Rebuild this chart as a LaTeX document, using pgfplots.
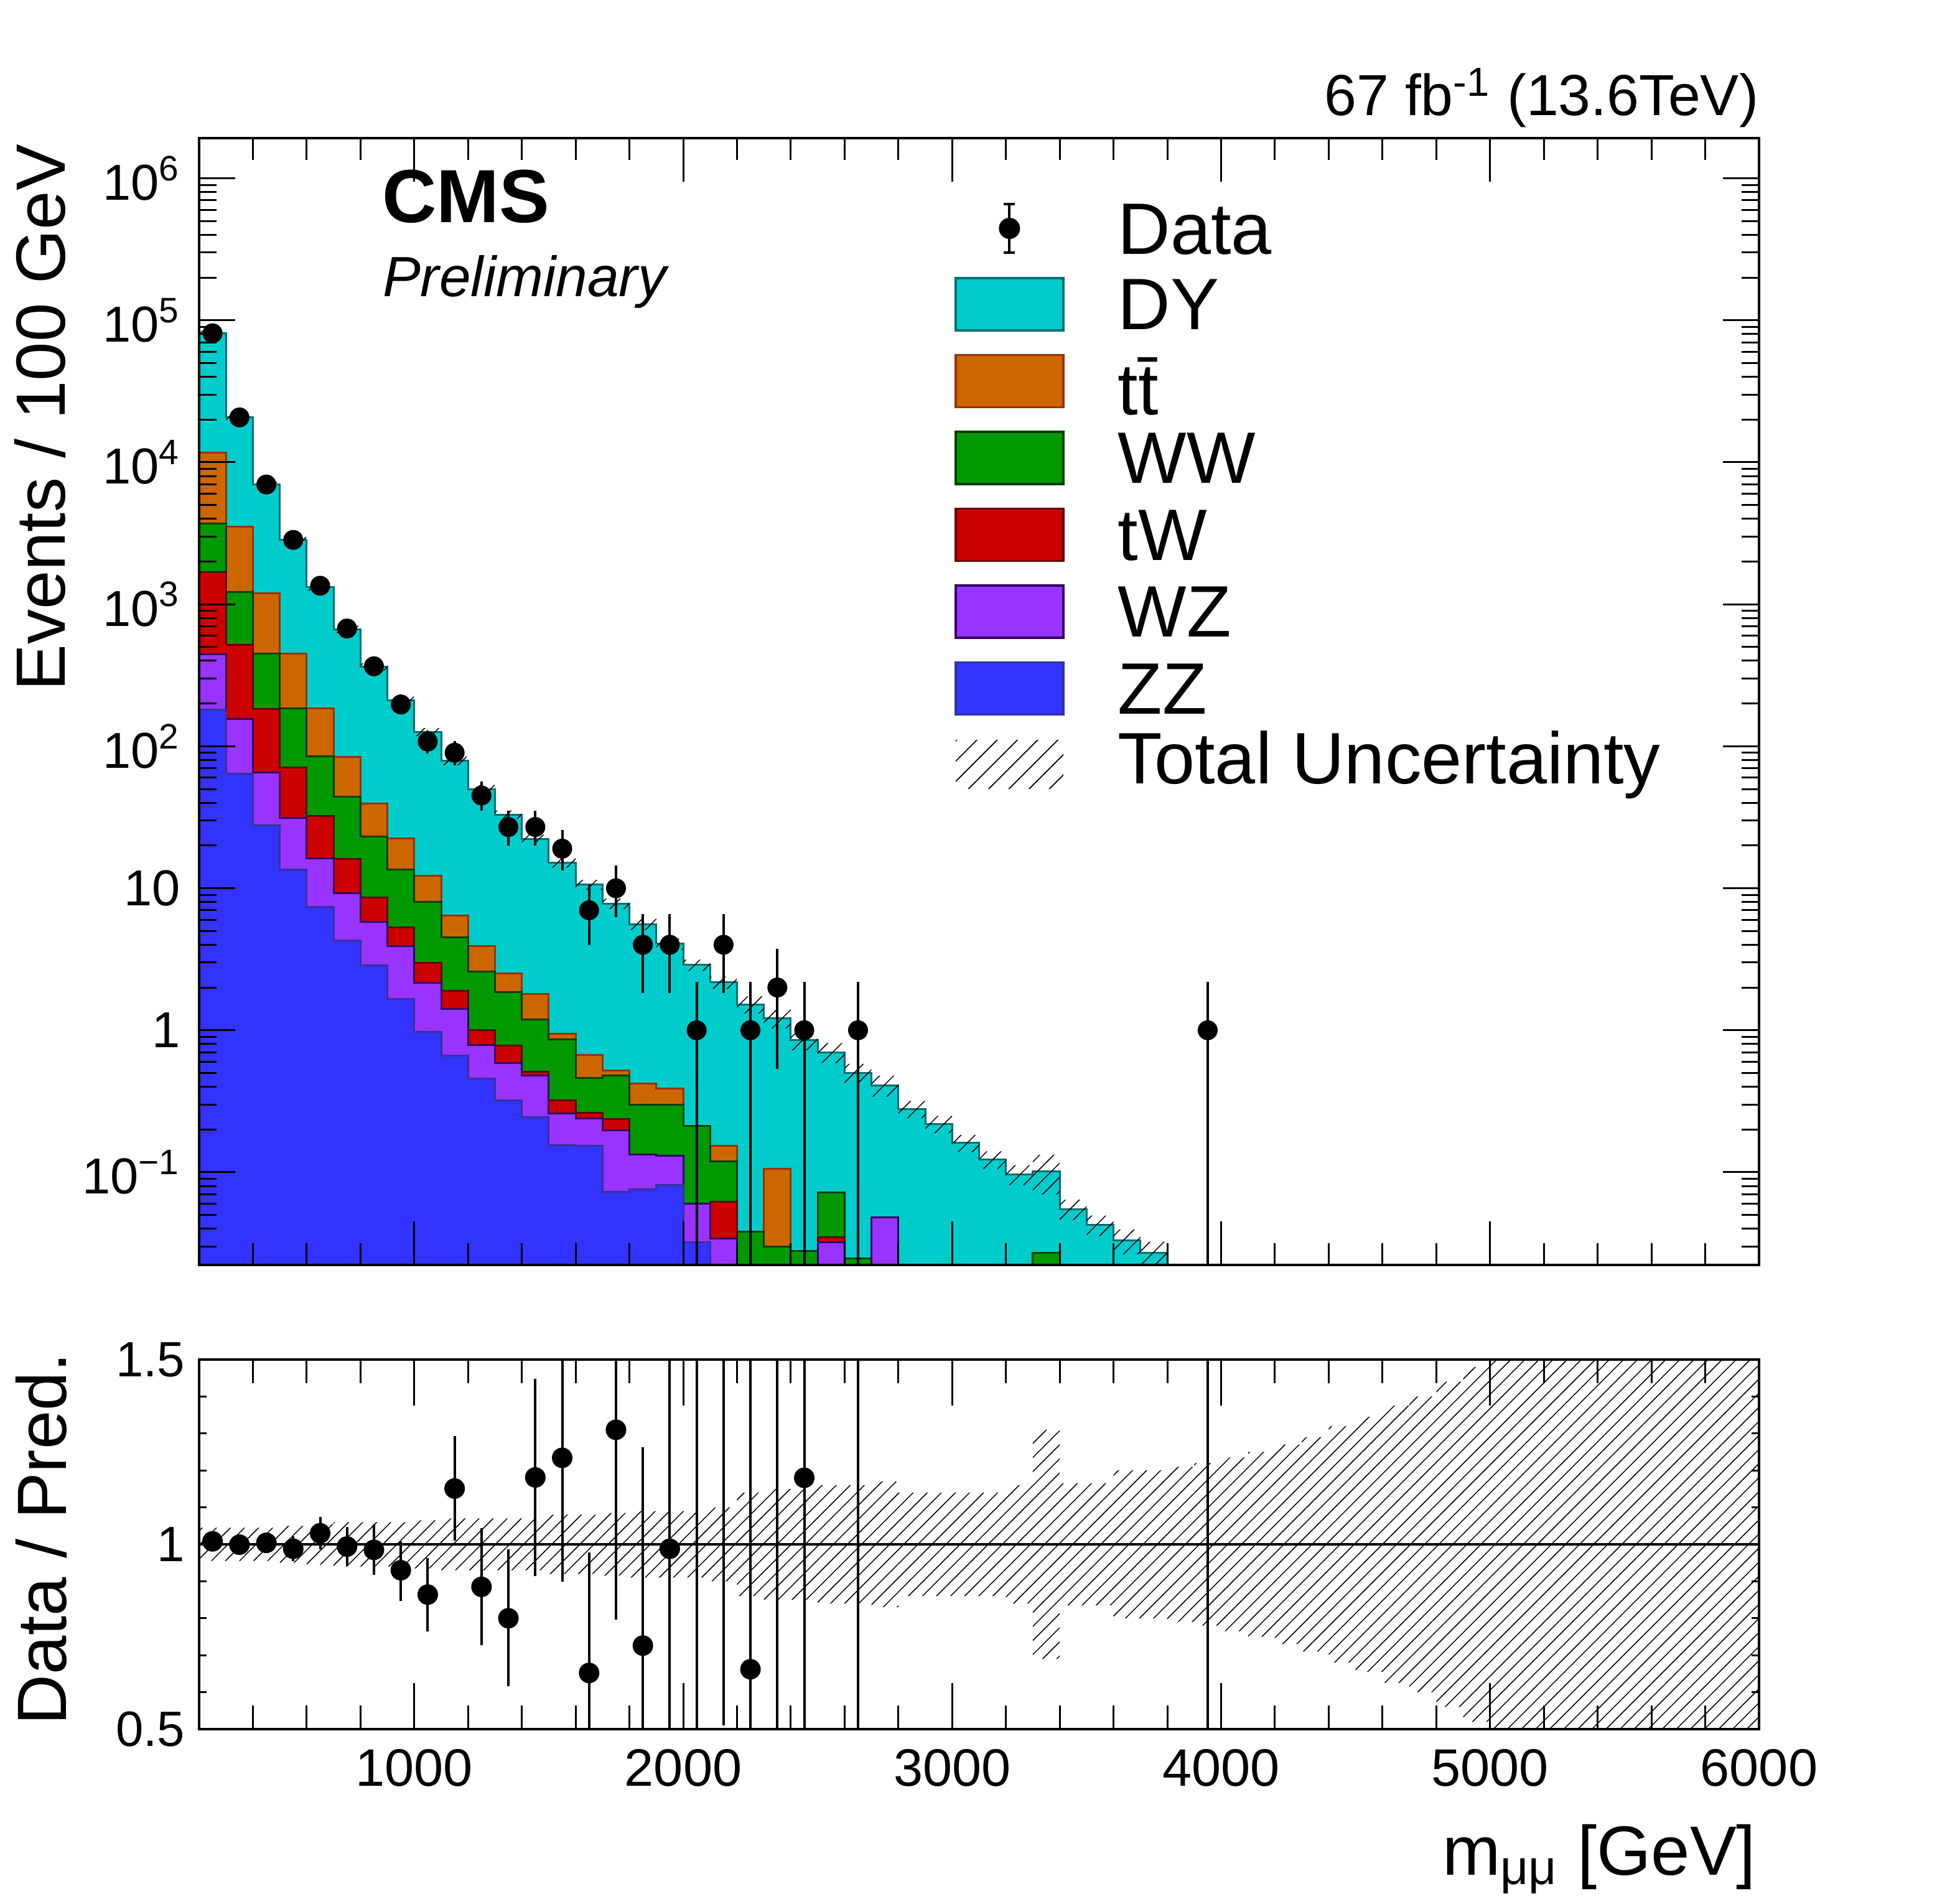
\documentclass[border=0pt]{standalone}
\usepackage{fontspec}
\setmainfont{Liberation Sans}
\usepackage{pgfplots}
\pgfplotsset{compat=1.18}
\usepackage{pgfplotstable}
\usetikzlibrary{patterns.meta}

\definecolor{cDY}{RGB}{0,204,204}
\definecolor{lDY}{RGB}{0,112,112}
\definecolor{cTT}{RGB}{204,102,0}
\definecolor{lTT}{RGB}{153,51,0}
\definecolor{cWW}{RGB}{0,153,0}
\definecolor{lWW}{RGB}{0,64,0}
\definecolor{cTW}{RGB}{204,0,0}
\definecolor{lTW}{RGB}{102,0,0}
\definecolor{cWZ}{RGB}{153,51,255}
\definecolor{lWZ}{RGB}{51,0,102}
\definecolor{cZZ}{RGB}{51,51,255}
\definecolor{lZZ}{RGB}{51,51,153}

\newcommand\fs[1]{\fontsize{#1}{#1}\selectfont}

% cumulative stack tops (tot = DY top, tt, ww, tw, wz, zz)
\pgfplotstableread{
x tot tt ww tw wz zz
200 1e-5 1e-5 1e-5 1e-5 1e-5 1e-5
200 81000 11700 3700 1680 444 181
300 20700 3520 1214 519 155 64
400 6970 1199 450 183 65.5 27.7
500 2840 450 185 71 31.2 13.5
600 1320 185 85 32.3 16.3 7.4
700 667 84 44 16 9.2 4.3
800 362 39.6 23.1 8.6 5.8 2.85
900 211 22.5 13.5 5.3 3.9 1.66
1000 126 12.2 8.05 2.98 2.16 0.97
1100 79 6.4 4.5 1.9 1.42 0.66
1200 50 3.9 2.6 1.0 0.79 0.456
1300 33 2.5 1.85 0.78 0.59 0.32
1400 22.3 1.8 1.19 0.51 0.48 0.245
1500 15.2 0.946 0.86 0.32 0.26 0.155
1600 10.6 0.67 0.46 0.262 0.24 0.153
1700 7.8 0.52 0.48 0.238 0.198 0.073
1800 5.6 0.42 0.30 0.133 0.133 0.076
1900 4.06 0.387 0.30 0.131 0.131 0.081
2000 2.88 0.212 0.212 0.060 0.060 0.032
2100 2.17 0.153 0.119 0.062 0.034 1e-5
2200 1.52 0.038 0.038 1e-5 1e-5 1e-5
2300 1.21 0.106 0.030 1e-5 1e-5 1e-5
2400 0.85 0.0279 0.0279 1e-5 1e-5 1e-5
2500 0.70 0.072 0.072 0.0347 0.032 1e-5
2600 0.50 0.0247 0.0247 1e-5 1e-5 1e-5
2700 0.41 0.048 0.048 0.048 0.048 1e-5
2800 0.279 1e-5 1e-5 1e-5 1e-5 1e-5
2900 0.219 1e-5 1e-5 1e-5 1e-5 1e-5
3000 0.161 1e-5 1e-5 1e-5 1e-5 1e-5
3100 0.123 1e-5 1e-5 1e-5 1e-5 1e-5
3200 0.0966 1e-5 1e-5 1e-5 1e-5 1e-5
3300 0.101 0.027 0.027 1e-5 1e-5 1e-5
3400 0.055 1e-5 1e-5 1e-5 1e-5 1e-5
3500 0.0425 1e-5 1e-5 1e-5 1e-5 1e-5
3600 0.033 1e-5 1e-5 1e-5 1e-5 1e-5
3700 0.027 1e-5 1e-5 1e-5 1e-5 1e-5
3800 1e-5 1e-5 1e-5 1e-5 1e-5 1e-5
6000 1e-5 1e-5 1e-5 1e-5 1e-5 1e-5
}\stack

% uncertainty band outline for the upper panel: forward along t*(1+u), back along t*(1-u)
\pgfplotstableread{
x t u s
200 81000 0.045 1
300 20700 0.045 1
400 6970 0.045 1
500 2840 0.05 1
600 1320 0.055 1
700 667 0.06 1
800 362 0.06 1
900 211 0.06 1
1000 126 0.065 1
1100 79 0.07 1
1200 50 0.07 1
1300 33 0.07 1
1400 22.3 0.07 1
1500 15.2 0.08 1
1600 10.6 0.08 1
1700 7.8 0.085 1
1800 5.6 0.09 1
1900 4.06 0.09 1
2000 2.88 0.09 1
2100 2.17 0.10 1
2200 1.52 0.14 1
2300 1.21 0.15 1
2400 0.85 0.15 1
2500 0.70 0.16 1
2600 0.50 0.16 1
2700 0.41 0.17 1
2800 0.279 0.14 1
2900 0.219 0.14 1
3000 0.161 0.14 1
3100 0.123 0.14 1
3200 0.0966 0.16 1
3300 0.101 0.31 1
3400 0.055 0.165 1
3500 0.0425 0.165 1
3600 0.033 0.20 1
3700 0.027 0.20 1
3800 0.027 0.20 1
3800 0.027 0.20 -1
3700 0.033 0.20 -1
3600 0.0425 0.165 -1
3500 0.055 0.165 -1
3400 0.101 0.31 -1
3300 0.0966 0.16 -1
3200 0.123 0.14 -1
3100 0.161 0.14 -1
3000 0.219 0.14 -1
2900 0.279 0.14 -1
2800 0.41 0.17 -1
2700 0.50 0.16 -1
2600 0.70 0.16 -1
2500 0.85 0.15 -1
2400 1.21 0.15 -1
2300 1.52 0.14 -1
2200 2.17 0.10 -1
2100 2.88 0.09 -1
2000 4.06 0.09 -1
1900 5.6 0.09 -1
1800 7.8 0.085 -1
1700 10.6 0.08 -1
1600 15.2 0.08 -1
1500 22.3 0.07 -1
1400 33 0.07 -1
1300 50 0.07 -1
1200 79 0.07 -1
1100 126 0.065 -1
1000 211 0.06 -1
900 362 0.06 -1
800 667 0.06 -1
700 1320 0.055 -1
600 2840 0.05 -1
500 6970 0.045 -1
400 20700 0.045 -1
300 81000 0.045 -1
200 81000 0.045 -1
}\band

% ratio-panel uncertainty band outline: forward along 1+u, back along 1-u
\pgfplotstableread{
x y
200 1.045
300 1.045
400 1.045
500 1.05
600 1.055
700 1.06
800 1.06
900 1.06
1000 1.065
1100 1.07
1200 1.07
1300 1.07
1400 1.07
1500 1.08
1600 1.08
1700 1.085
1800 1.09
1900 1.09
2000 1.09
2100 1.10
2200 1.14
2300 1.15
2400 1.15
2500 1.16
2600 1.16
2700 1.17
2800 1.14
2900 1.14
3000 1.14
3100 1.14
3200 1.16
3300 1.31
3400 1.165
3500 1.165
3600 1.20
3700 1.20
3800 1.21
3900 1.22
4000 1.235
4100 1.25
4200 1.27
4300 1.29
4400 1.32
4500 1.345
4600 1.375
4700 1.40
4800 1.44
4900 1.48
5000 1.6
6000 1.6
6000 0.4
5000 0.52
4900 0.56
4800 0.60
4700 0.625
4600 0.655
4500 0.68
4400 0.71
4300 0.73
4200 0.75
4100 0.765
4000 0.78
3900 0.79
3800 0.80
3700 0.80
3600 0.835
3500 0.835
3400 0.69
3300 0.84
3200 0.86
3100 0.86
3000 0.86
2900 0.86
2800 0.83
2700 0.84
2600 0.84
2500 0.85
2400 0.85
2300 0.86
2200 0.90
2100 0.91
2000 0.91
1900 0.91
1800 0.915
1700 0.92
1600 0.92
1500 0.93
1400 0.93
1300 0.93
1200 0.93
1100 0.935
1000 0.94
900 0.94
800 0.94
700 0.945
600 0.95
500 0.955
400 0.955
300 0.955
200 0.955
}\rband

\pgfplotstableread{
x y ep em
250 81000 285 285
350 20700 144 144
450 6970 83.5 83.5
550 2840 53.3 53.3
650 1350 36.7 36.7
750 675 26 26
850 366 19.1 19.1
950 197 14 14
1050 108 10.4 10.4
1150 90 9.5 9.5
1250 45 6.7 6.7
1350 27 5.2 5.2
1450 27 5.2 5.2
1550 19 4.36 4.36
1650 7 2.65 2.65
1750 10 3.16 3.16
1850 4 2 2
1950 4 2 2
2050 1 1 0.9999
2150 4 2 2
2250 1 1 0.9999
2350 2 1.414 1.414
2450 1 1 0.9999
2650 1 1 0.9999
3950 1 1 0.9999
}\data

\pgfplotstableread{
x y ep em
250 1.008 0.004 0.004
350 0.999 0.007 0.007
450 1.004 0.012 0.012
550 0.988 0.019 0.019
650 1.030 0.029 0.029
750 0.994 0.039 0.039
850 0.985 0.055 0.054
950 0.930 0.064 0.069
1050 0.864 0.085 0.086
1150 1.151 0.128 0.126
1250 0.885 0.144 0.143
1350 0.800 0.172 0.170
1450 1.181 0.253 0.253
1550 1.234 0.4 0.32
1650 0.652 0.311 0.4
1750 1.310 0.5 0.5
1850 0.726 0.523 0.5
1950 0.988 0.6 0.6
2050 0.35 1.5 0.35
2150 1.84 1.0 1.315
2250 0.662 1.5 0.6
2350 1.65 1.5 1.5
2450 1.18 1.5 1.1
2650 2.0 2.0 1.9
3950 2.0 2.0 2.0
}\ratio

\begin{document}
\begin{tikzpicture}
\path[use as bounding box] (0,0) rectangle (630bp,610.4bp);

% ---------------- upper panel ----------------
\begin{axis}[
  at={(64bp,203.8bp)}, anchor=south west, scale only axis,
  width=501.4bp, height=362.2bp,
  xmin=200, xmax=6000, ymode=log, ymin=0.02223, ymax=1.919e6,
  axis on top,
  xtick={1000,2000,3000,4000,5000,6000}, xticklabels={},
  minor xtick={400,600,800,1200,1400,1600,1800,2200,2400,2600,2800,3200,3400,3600,3800,4200,4400,4600,4800,5200,5400,5600,5800},
  ytick={0.1,1,10}, yticklabels={}, yminorticks=false, ytick style={draw=none},
  major tick length=14bp, minor tick length=7bp,
  tick style={black, line width=0.6bp},
  axis line style={black, line width=0.9bp},
  legend style={at={(0.4843,0.9431)}, anchor=north west, draw=none, fill=none,
    inner sep=0pt, outer sep=0pt, row sep=7.2bp, column sep=17.2bp,
    font=\fs{23.5}, nodes={inner sep=0pt, text height=16.6bp, text depth=0.2bp}},
  legend cell align=left,
]
\addlegendimage{legend image code/.code={
  \draw[black, line width=0.8bp] (17.3bp,-7.8bp) -- (17.3bp,7.8bp);
  \draw[black, line width=0.8bp] (15.5bp,7.8bp) -- (19.1bp,7.8bp);
  \draw[black, line width=0.8bp] (15.5bp,-7.8bp) -- (19.1bp,-7.8bp);
  \fill[black] (17.3bp,0bp) circle (3.2bp);
  \path[draw=none, fill=none] (0bp,-8.4bp) rectangle (34.6bp,8.4bp);}}
\addlegendentry{Data}
\addlegendimage{legend image code/.code={\draw[fill=cDY, draw=lDY, line width=0.7bp] (0bp,-8.4bp) rectangle (34.6bp,8.4bp);}}
\addlegendentry{DY}
\addlegendimage{legend image code/.code={\draw[fill=cTT, draw=lTT, line width=0.7bp] (0bp,-8.4bp) rectangle (34.6bp,8.4bp);}}
\addlegendentry{\raisebox{-2.6bp}{t\=t}}
\addlegendimage{legend image code/.code={\draw[fill=cWW, draw=lWW, line width=0.7bp] (0bp,-8.4bp) rectangle (34.6bp,8.4bp);}}
\addlegendentry{WW}
\addlegendimage{legend image code/.code={\draw[fill=cTW, draw=lTW, line width=0.7bp] (0bp,-8.4bp) rectangle (34.6bp,8.4bp);}}
\addlegendentry{tW}
\addlegendimage{legend image code/.code={\draw[fill=cWZ, draw=lWZ, line width=0.7bp] (0bp,-8.4bp) rectangle (34.6bp,8.4bp);}}
\addlegendentry{WZ}
\addlegendimage{legend image code/.code={\draw[fill=cZZ, draw=lZZ, line width=0.7bp] (0bp,-8.4bp) rectangle (34.6bp,8.4bp);}}
\addlegendentry{ZZ}
\addlegendimage{legend image code/.code={\path[draw=none, pattern={Lines[angle=45,distance=4.6bp,line width=0.35bp]}] (0bp,-7.8bp) rectangle (34.6bp,7.8bp);}}
\addlegendentry{\raisebox{1.9bp}{Total Uncertainty}}

\addplot[const plot, fill=cDY, draw=lDY, line width=0.6bp] table[x=x,y=tot]{\stack};
\addplot[const plot, fill=cTT, draw=lTT, line width=0.6bp] table[x=x,y=tt]{\stack};
\addplot[const plot, fill=cWW, draw=lWW, line width=0.6bp] table[x=x,y=ww]{\stack};
\addplot[const plot, fill=cTW, draw=lTW, line width=0.6bp] table[x=x,y=tw]{\stack};
\addplot[const plot, fill=cWZ, draw=lWZ, line width=0.6bp] table[x=x,y=wz]{\stack};
\addplot[const plot, fill=cZZ, draw=lZZ, line width=0.6bp] table[x=x,y=zz]{\stack};

\addplot[const plot, draw=none, pattern={Lines[angle=45,distance=3.2bp,line width=0.3bp]}]
  table[x=x, y expr={\thisrow{t}*(1+\thisrow{s}*\thisrow{u})}]{\band};

\addplot[black, only marks, mark=*, mark size=3bp,
  error bars/.cd, y dir=both, y explicit,
  error bar style={line width=0.8bp, black},
  error mark options={line width=0.8bp, mark size=1.8bp, black}]
  table[x=x, y=y, y error plus=ep, y error minus=em]{\data};
\end{axis}

% upper panel y ticks and labels
\begin{axis}[
  at={(64bp,203.8bp)}, anchor=south west, scale only axis,
  width=501.4bp, height=362.2bp,
  xmin=200, xmax=6000, ymode=log, ymin=0.02223, ymax=1.919e6,
  hide x axis,
  ytick={0.1,1,10,100,1000,10000,100000,1000000},
  yticklabels={10\textsuperscript{−1},1,10,10\textsuperscript{2},10\textsuperscript{3},10\textsuperscript{4},10\textsuperscript{5},10\textsuperscript{6}},
  minor ytick={0.03,0.04,0.05,0.06,0.07,0.08,0.09,0.2,0.3,0.4,0.5,0.6,0.7,0.8,0.9,2,3,4,5,6,7,8,9,20,30,40,50,60,70,80,90,200,300,400,500,600,700,800,900,2000,3000,4000,5000,6000,7000,8000,9000,20000,30000,40000,50000,60000,70000,80000,90000,200000,300000,400000,500000,600000,700000,800000,900000},
  major tick length=11.6bp, minor tick length=5.6bp,
  tick style={black, line width=0.6bp},
  axis line style={black, line width=0.9bp},
  yticklabel style={font=\fs{16.3}, inner sep=0pt, xshift=-5.8bp},
]
\addplot[draw=none, mark=none] coordinates {(1000,1) (2000,1)};
\end{axis}

% ---------------- ratio panel ----------------
\begin{axis}[
  at={(64bp,54.6bp)}, anchor=south west, scale only axis,
  width=501.4bp, height=118.8bp,
  xmin=200, xmax=6000, ymin=0.5, ymax=1.5,
  axis on top,
  xtick={1000,2000,3000,4000,5000,6000},
  xticklabels={1000,2000,3000,4000,5000,6000},
  minor xtick={400,600,800,1200,1400,1600,1800,2200,2400,2600,2800,3200,3400,3600,3800,4200,4400,4600,4800,5200,5400,5600,5800},
  ytick={1}, yticklabels={}, ytick style={draw=none},
  major tick length=14.7bp, minor tick length=7.5bp,
  tick style={black, line width=0.6bp},
  axis line style={black, line width=0.9bp},
  xticklabel style={font=\fs{17}, inner sep=0pt, yshift=-6.2bp},
]
\addplot[const plot, draw=none, pattern={Lines[angle=45,distance=3.2bp,line width=0.3bp]}]
  table[x=x, y=y]{\rband};
\addplot[black, line width=0.7bp] coordinates {(200,1) (6000,1)};
\addplot[black, only marks, mark=none,
  error bars/.cd, y dir=both, y explicit,
  error bar style={line width=0.8bp, black},
  error mark options={line width=0.8bp, mark size=1.7bp, black}]
  table[x=x, y=y, y error plus=ep, y error minus=em]{\ratio};
\addplot[black, only marks, mark=*, mark size=3.1bp, restrict y to domain=0.5:1.5]
  table[x=x, y=y]{\ratio};
\end{axis}

% ratio y ticks and labels
\begin{axis}[
  at={(64bp,54.6bp)}, anchor=south west, scale only axis,
  width=501.4bp, height=118.8bp,
  xmin=200, xmax=6000, ymin=0.5, ymax=1.5,
  hide x axis,
  ytick={0.5,1,1.5}, yticklabels={0.5,1,1.5},
  minor ytick={0.6,0.7,0.8,0.9,1.1,1.2,1.3,1.4},
  major tick length=2.5bp, minor tick length=2.5bp,
  tick style={black, line width=0.6bp},
  axis line style={black, line width=0.9bp},
  yticklabel style={font=\fs{16}, inner sep=0pt, xshift=-4.4bp},
]
\addplot[draw=none, mark=none] coordinates {(1000,1) (2000,1)};
\end{axis}

% ---------------- texts ----------------
\node[anchor=base west, inner sep=0pt, font=\fs{24.3}\bfseries] at (122.6bp,538.8bp) {CMS};
\node[anchor=base west, inner sep=0pt, font=\fs{18.3}\itshape] at (122.8bp,515.1bp) {Preliminary};
\node[anchor=base east, inner sep=0pt, font=\fs{18.7}] at (565.4bp,573.2bp) {67 fb\textsuperscript{-1} (13.6TeV)};
\node[rotate=90, anchor=base east, inner sep=0pt, font=\fs{22.5}] at (20.8bp,564.2bp) {Events / 100 GeV};
\node[rotate=90, anchor=base east, inner sep=0pt, font=\fs{22.5}] at (21.2bp,175.8bp) {Data / Pred.};
\node[anchor=base east, inner sep=0pt, font=\fs{22.5}] at (564.6bp,7.8bp) {m\textsubscript{μμ} [GeV]};
\end{tikzpicture}
\end{document}
